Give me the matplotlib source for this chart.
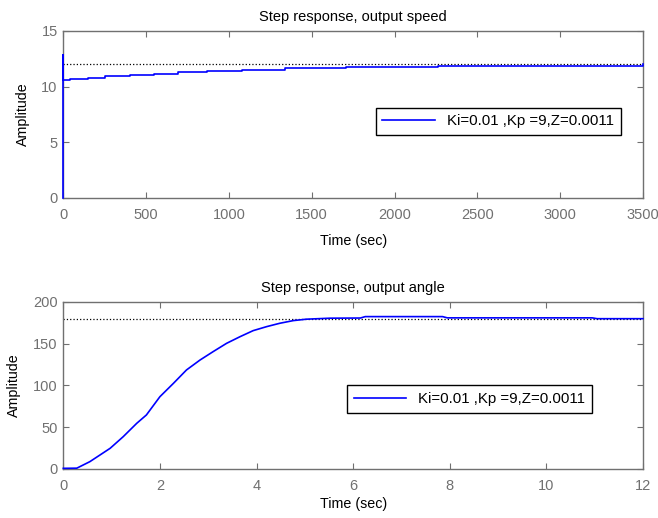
import matplotlib
matplotlib.use("Agg")
import matplotlib.pyplot as plt

plt.rcParams['font.family'] = ['Liberation Sans', 'DejaVu Sans']

# step response, output speed (staircase)
t_speed = [0, 0, 0, 40, 150, 250, 400, 545, 695, 865, 1080, 1340, 1705, 2260, 3500]
w_speed = [0, 12.8, 10.6, 10.7, 10.82, 10.93, 11.05, 11.17, 11.29, 11.41, 11.53, 11.65, 11.75, 11.88, 12.0]
ref_speed = 12.0

# step response, output angle
t_angle = [0, 0.28, 0.55, 0.76, 0.97, 1.24, 1.52, 1.72, 2.0, 2.28, 2.55, 2.83, 3.1,
           3.38, 3.66, 3.93, 4.21, 4.48, 4.76, 5.03, 5.52, 6.15, 6.25, 7.85, 7.95,
           10.95, 11.05, 12.0]
th_angle = [0.8, 1.0, 8.8, 16.8, 24.8, 38.7, 54.7, 64.7, 86.6, 102.6, 118.6, 130.5, 140.5,
            150.5, 158.5, 165.7, 170.5, 174.5, 177.7, 179.4, 180.6, 180.8, 182.5, 182.5, 181.0,
            181.0, 180.0, 180.0]
ref_angle = 180.0

legend_label = "Ki=0.01 ,Kp =9,Z=0.0011"

fig = plt.figure(figsize=(6.58, 5.18), dpi=100)
ax1 = fig.add_axes([0.0962, 0.6178, 0.881, 0.3224])
ax2 = fig.add_axes([0.0962, 0.0946, 0.881, 0.3224])

ax1.axhline(ref_speed, color='black', linestyle=':', linewidth=0.9)
ax1.plot(t_speed, w_speed, color='#0000ff', linewidth=1.2, drawstyle='steps-post',
         label=legend_label, clip_on=False, zorder=5)
ax1.set_xlim(0, 3500)
ax1.set_ylim(0, 15)
ax1.set_xticks(range(0, 3501, 500))
ax1.set_yticks([0, 5, 10, 15])
ax1.set_title("Step response, output speed", fontsize=10.5, pad=7)
ax1.set_xlabel("Time (sec)", fontsize=10.3, labelpad=9)
ax1.set_ylabel("Amplitude", fontsize=10.3, labelpad=8.5)
leg1 = ax1.legend(loc='center', bbox_to_anchor=(0.75, 0.459), fontsize=10.8, handlelength=3.5,
                  fancybox=False, framealpha=1, edgecolor='black', borderpad=0.45)

ax2.axhline(ref_angle, color='black', linestyle=':', linewidth=0.9)
ax2.plot(t_angle, th_angle, color='#0000ff', linewidth=1.2, label=legend_label,
         clip_on=False, zorder=5)
ax2.set_xlim(0, 12)
ax2.set_ylim(0, 200)
ax2.set_xticks(range(0, 13, 2))
ax2.set_yticks(range(0, 201, 50))
ax2.set_title("Step response, output angle", fontsize=10.5, pad=7)
ax2.set_xlabel("Time (sec)", fontsize=10.3, labelpad=3)
ax2.set_ylabel("Amplitude", fontsize=10.3, labelpad=8.5)
leg2 = ax2.legend(loc='center', bbox_to_anchor=(0.701, 0.419), fontsize=10.8, handlelength=3.5,
                  fancybox=False, framealpha=1, edgecolor='black', borderpad=0.45)

for ax in (ax1, ax2):
    for s in ax.spines.values():
        s.set_color('#707070')
        s.set_linewidth(1.0)
    ax.tick_params(direction='in', top=True, right=True, length=4, width=0.8,
                   color='#707070', labelcolor='#707070', labelsize=10.5)
    ax.tick_params(axis='x', pad=7)
    ax.tick_params(axis='y', pad=4)
for leg in (leg1, leg2):
    leg.get_frame().set_linewidth(1.0)

fig.savefig("out.png", dpi=100)
